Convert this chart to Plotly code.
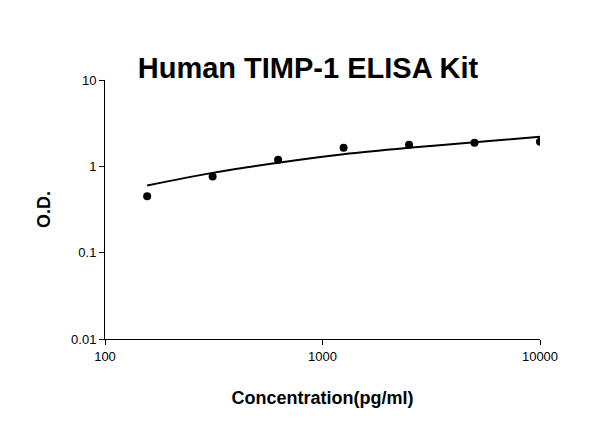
import plotly.graph_objects as go

# standard concentrations and measured O.D.
conc = [156.25, 312.5, 625, 1250, 2500, 5000, 10000]
od = [0.45, 0.76, 1.19, 1.64, 1.78, 1.87, 1.93]
# fitted curve
fit_od = [0.6, 0.84, 1.1, 1.38, 1.64, 1.9, 2.2]

fig = go.Figure()
fig.add_trace(go.Scatter(x=conc, y=fit_od, mode="lines", line=dict(color="black", width=2, shape="spline")))
fig.add_trace(go.Scatter(x=conc, y=od, mode="markers", marker=dict(color="black", size=8)))

axis_font = dict(family="Liberation Sans, Arial", size=13, color="black")
fig.update_layout(
    width=600, height=447,
    plot_bgcolor="white", paper_bgcolor="white",
    showlegend=False,
    margin=dict(l=97, r=68, t=72, b=116),
    title=dict(text="<b>Human TIMP-1 ELISA Kit</b>", x=0.5, xanchor="center", y=0.865, yanchor="middle",
               font=dict(family="Liberation Sans, Arial", size=29, color="black")),
    xaxis=dict(type="log", range=[2, 4], tickvals=[100, 1000, 10000], ticktext=["100", "1000", "10000"],
               showline=True, linecolor="black", ticks="outside", tickcolor="black", showgrid=False,
               tickfont=axis_font, zeroline=False,
               title=dict(text="<b>Concentration(pg/ml)</b>", standoff=28,
                          font=dict(family="Liberation Sans, Arial", size=18, color="black"))),
    yaxis=dict(type="log", range=[-2, 1], tickvals=[0.01, 0.1, 1, 10], ticktext=["0.01", "0.1", "1", "10"],
               showline=True, linecolor="black", ticks="outside", tickcolor="black", showgrid=False,
               tickfont=axis_font, zeroline=False,
               title=dict(text="<b>O.D.</b>", font=dict(family="Liberation Sans, Arial", size=18, color="black"))),
)
fig.write_html("out.html")
